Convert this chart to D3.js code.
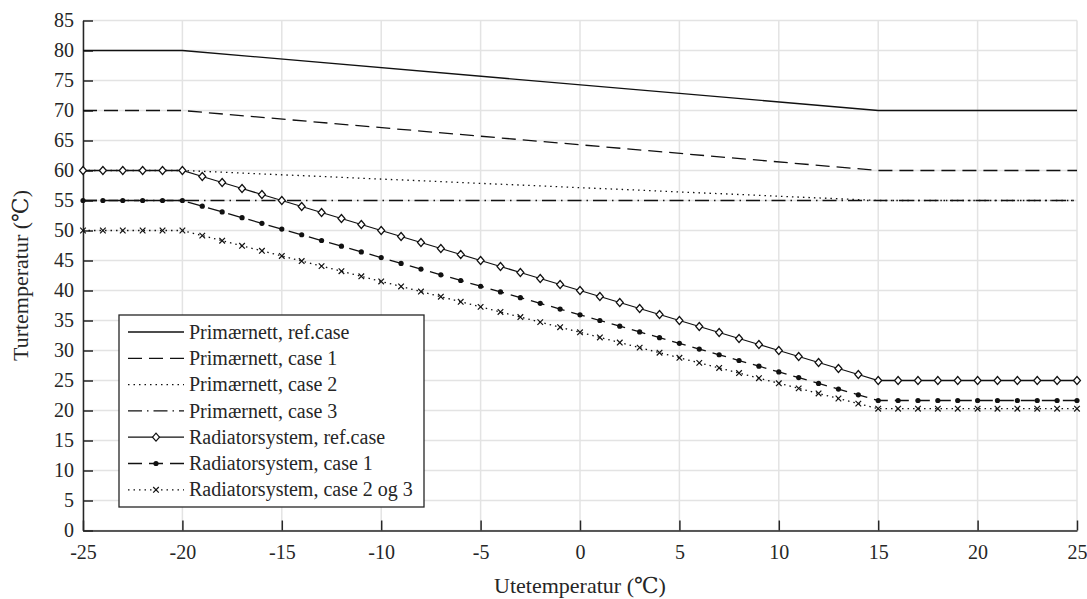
<!DOCTYPE html>
<html>
<head>
<meta charset="utf-8">
<title>Turtemperatur</title>
<script src="https://cdn.jsdelivr.net/npm/d3@7/dist/d3.min.js"></script>
<style>
  body { margin: 0; background: #fff; }
  svg text { font-family: "Liberation Serif", "Times New Roman", Tinos, "DejaVu Serif", serif !important; fill: #262626; }
</style>
</head>
<body>
<svg id="chart" width="1087" height="599"></svg>
<script>
// outdoor temperature (x) for the radiator curves
var uteTemp = [-25, -24, -23, -22, -21, -20, -19, -18, -17, -16, -15, -14, -13, -12, -11, -10,
  -9, -8, -7, -6, -5, -4, -3, -2, -1, 0, 1, 2, 3, 4, 5, 6, 7, 8, 9, 10, 11, 12, 13, 14, 15,
  16, 17, 18, 19, 20, 21, 22, 23, 24, 25];

var radRef = [60, 60, 60, 60, 60, 60, 59, 58, 57, 56, 55, 54, 53, 52, 51, 50,
  49, 48, 47, 46, 45, 44, 43, 42, 41, 40, 39, 38, 37, 36, 35, 34, 33, 32, 31, 30, 29, 28, 27, 26, 25,
  25, 25, 25, 25, 25, 25, 25, 25, 25, 25];

var radCase1 = [55, 55, 55, 55, 55, 55, 54.05, 53.10, 52.14, 51.19, 50.24, 49.29, 48.33, 47.38, 46.43, 45.48,
  44.52, 43.57, 42.62, 41.67, 40.71, 39.76, 38.81, 37.86, 36.90, 35.95, 35.00, 34.05, 33.10, 32.14, 31.19,
  30.24, 29.29, 28.33, 27.38, 26.43, 25.48, 24.52, 23.57, 22.62, 21.67,
  21.67, 21.67, 21.67, 21.67, 21.67, 21.67, 21.67, 21.67, 21.67, 21.67];

var radCase23 = [50, 50, 50, 50, 50, 50, 49.15, 48.30, 47.45, 46.61, 45.76, 44.91, 44.06, 43.21, 42.36, 41.51,
  40.67, 39.82, 38.97, 38.12, 37.27, 36.42, 35.57, 34.73, 33.88, 33.03, 32.18, 31.33, 30.48, 29.63, 28.79,
  27.94, 27.09, 26.24, 25.39, 24.54, 23.69, 22.84, 22.00, 21.15, 20.30,
  20.30, 20.30, 20.30, 20.30, 20.30, 20.30, 20.30, 20.30, 20.30, 20.30];

// primary network: only the break points
var primX = [-25, -20, 15, 25];
var primRef = [80, 80, 70, 70];
var primCase1 = [70, 70, 60, 60];
var primCase2 = [60, 60, 55, 55];
var primCase3 = [55, 55, 55, 55];

var xTicks = [-25, -20, -15, -10, -5, 0, 5, 10, 15, 20, 25];
var yTicks = [0, 5, 10, 15, 20, 25, 30, 35, 40, 45, 50, 55, 60, 65, 70, 75, 80, 85];

var FONT = "'Liberation Serif', 'Times New Roman', Tinos, 'DejaVu Serif', serif";

var svg = d3.select("#chart").attr("font-family", FONT),
    pLeft = 83, pRight = 1077, pTop = 20.5, pBottom = 530.5;

var x = d3.scaleLinear().domain([-25, 25]).range([pLeft, pRight]);
var y = d3.scaleLinear().domain([0, 85]).range([pBottom, pTop]);

// grid
svg.append("g")
  .selectAll("line").data(xTicks).join("line")
    .attr("x1", d => x(d)).attr("x2", d => x(d))
    .attr("y1", pTop).attr("y2", pBottom)
    .attr("stroke", "#e3e3e3").attr("stroke-width", 1.5);
svg.append("g")
  .selectAll("line").data(yTicks).join("line")
    .attr("x1", pLeft).attr("x2", pRight)
    .attr("y1", d => y(d)).attr("y2", d => y(d))
    .attr("stroke", "#e3e3e3").attr("stroke-width", 1.5);

// axes, ticks pointing inward, plain hyphen for negatives
var xAxis = svg.append("g")
    .attr("transform", "translate(0," + pBottom + ")")
    .call(d3.axisBottom(x).tickValues(xTicks).tickFormat(d => String(d))
      .tickSize(-10).tickPadding(14).tickSizeOuter(0));
var yAxis = svg.append("g")
    .attr("transform", "translate(" + pLeft + ",0)")
    .call(d3.axisLeft(y).tickValues(yTicks).tickFormat(d => String(d))
      .tickSize(-10).tickPadding(9).tickSizeOuter(0));

[xAxis, yAxis].forEach(function(g) {
  g.attr("font-family", FONT).attr("font-size", 20);
  g.select(".domain").attr("stroke", "#262626").attr("stroke-width", 1.5);
  g.selectAll(".tick line").attr("stroke", "#262626").attr("stroke-width", 1.5);
  g.selectAll(".tick text").attr("fill", "#262626");
});

svg.append("text")
  .attr("x", (pLeft + pRight) / 2)
  .attr("y", 593)
  .attr("text-anchor", "middle")
  .attr("font-size", 22)
  .text("Utetemperatur (℃)");

svg.append("text")
  .attr("transform", "translate(28," + (pTop + pBottom) / 2 + ") rotate(-90)")
  .attr("text-anchor", "middle")
  .attr("font-size", 22)
  .text("Turtemperatur (℃)");

// series definitions
var DASH = "14,7", DOT = "1.5,4", DASHDOT = "14,5,1.5,5";

var series = [
  { name: "Primærnett, ref.case", xs: primX, ys: primRef, dash: null, marker: null },
  { name: "Primærnett, case 1", xs: primX, ys: primCase1, dash: DASH, marker: null },
  { name: "Primærnett, case 2", xs: primX, ys: primCase2, dash: DOT, marker: null },
  { name: "Primærnett, case 3", xs: primX, ys: primCase3, dash: DASHDOT, marker: null },
  { name: "Radiatorsystem, ref.case", xs: uteTemp, ys: radRef, dash: null, marker: "diamond" },
  { name: "Radiatorsystem, case 1", xs: uteTemp, ys: radCase1, dash: DASH, marker: "dot" },
  { name: "Radiatorsystem, case 2 og 3", xs: uteTemp, ys: radCase23, dash: DOT, marker: "cross" }
];

var line = d3.line().x(d => x(d[0])).y(d => y(d[1]));

function drawMarker(g, kind, px, py) {
  if (kind === "diamond") {
    g.append("path")
      .attr("d", "M" + px + "," + (py - 4) + "L" + (px + 3.5) + "," + py + "L" + px + "," + (py + 4) + "L" + (px - 3.5) + "," + py + "Z")
      .attr("fill", "#fff").attr("stroke", "#111").attr("stroke-width", 1.2);
  } else if (kind === "dot") {
    g.append("circle").attr("cx", px).attr("cy", py).attr("r", 2.6).attr("fill", "#111");
  } else if (kind === "cross") {
    g.append("path")
      .attr("d", "M" + (px - 2.8) + "," + (py - 2.8) + "L" + (px + 2.8) + "," + (py + 2.8) +
                 "M" + (px - 2.8) + "," + (py + 2.8) + "L" + (px + 2.8) + "," + (py - 2.8))
      .attr("stroke", "#111").attr("stroke-width", 1.2);
  }
}

var plot = svg.append("g");
series.forEach(function(s) {
  var pts = s.xs.map((v, i) => [v, s.ys[i]]);
  plot.append("path")
    .datum(pts)
    .attr("d", line)
    .attr("fill", "none")
    .attr("stroke", "#111")
    .attr("stroke-width", 1.3)
    .attr("stroke-dasharray", s.dash);
  if (s.marker) {
    var mg = plot.append("g");
    pts.forEach(p => drawMarker(mg, s.marker, x(p[0]), y(p[1])));
  }
});

// legend
var lg = svg.append("g");
lg.append("rect")
  .attr("x", 119).attr("y", 315)
  .attr("width", 305).attr("height", 192)
  .attr("fill", "#fff").attr("stroke", "#262626").attr("stroke-width", 1.3);

series.forEach(function(s, i) {
  var ly = 332 + i * 26.3;
  lg.append("line")
    .attr("x1", 128).attr("x2", 184)
    .attr("y1", ly).attr("y2", ly)
    .attr("stroke", "#111").attr("stroke-width", 1.3)
    .attr("stroke-dasharray", s.dash);
  if (s.marker) drawMarker(lg, s.marker, 156, ly);
  lg.append("text")
    .attr("x", 189).attr("y", ly)
    .attr("dy", "0.33em")
    .attr("font-size", 20)
    .text(s.name);
});
</script>
</body>
</html>
